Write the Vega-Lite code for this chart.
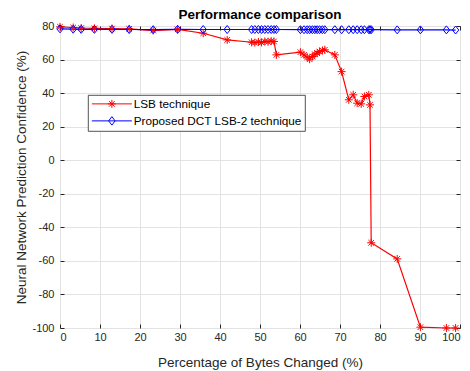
{
  "$schema": "https://vega.github.io/schema/vega-lite/v6.json",
  "width": 400,
  "height": 302,
  "autosize": {"type": "none"},
  "padding": {"left": 60, "top": 26, "right": 10, "bottom": 43},
  "background": "white",
  "title": {
    "text": "Performance comparison",
    "font": "Liberation Sans",
    "fontSize": 13.5,
    "fontWeight": "bold",
    "color": "#000000",
    "anchor": "middle",
    "offset": -1
  },
  "config": {
    "view": {"stroke": "#262626", "strokeWidth": 1},
    "font": "Liberation Sans",
    "legend": {"strokeWidth": 0.8},
    "axis": {
      "labelFont": "Liberation Sans",
      "labelFontSize": 11,
      "labelColor": "#262626",
      "titleFont": "Liberation Sans",
      "titleFontSize": 13.5,
      "titleFontWeight": "normal",
      "titleColor": "#262626",
      "gridColor": "#e3e3e3",
      "gridWidth": 1,
      "tickColor": "#262626",
      "tickSize": -4,
      "domain": false
    }
  },
  "data": {
    "values": [
      {"pct": 0, "conf": 79.5, "technique": "LSB technique"},
      {"pct": 3.3, "conf": 79.1, "technique": "LSB technique"},
      {"pct": 5.3, "conf": 78.8, "technique": "LSB technique"},
      {"pct": 8.6, "conf": 78.6, "technique": "LSB technique"},
      {"pct": 13.0, "conf": 78.5, "technique": "LSB technique"},
      {"pct": 17.3, "conf": 78.3, "technique": "LSB technique"},
      {"pct": 23.3, "conf": 77.3, "technique": "LSB technique"},
      {"pct": 29.4, "conf": 78.0, "technique": "LSB technique"},
      {"pct": 35.8, "conf": 75.7, "technique": "LSB technique"},
      {"pct": 41.8, "conf": 71.7, "technique": "LSB technique"},
      {"pct": 47.9, "conf": 70.3, "technique": "LSB technique"},
      {"pct": 48.7, "conf": 70.1, "technique": "LSB technique"},
      {"pct": 49.6, "conf": 70.5, "technique": "LSB technique"},
      {"pct": 50.4, "conf": 70.2, "technique": "LSB technique"},
      {"pct": 51.2, "conf": 70.8, "technique": "LSB technique"},
      {"pct": 52.0, "conf": 70.6, "technique": "LSB technique"},
      {"pct": 52.8, "conf": 71.0, "technique": "LSB technique"},
      {"pct": 53.5, "conf": 70.8, "technique": "LSB technique"},
      {"pct": 54.1, "conf": 62.8, "technique": "LSB technique"},
      {"pct": 60.1, "conf": 64.4, "technique": "LSB technique"},
      {"pct": 61.0, "conf": 62.8, "technique": "LSB technique"},
      {"pct": 61.8, "conf": 61.4, "technique": "LSB technique"},
      {"pct": 62.4, "conf": 60.2, "technique": "LSB technique"},
      {"pct": 63.1, "conf": 61.8, "technique": "LSB technique"},
      {"pct": 63.7, "conf": 63.2, "technique": "LSB technique"},
      {"pct": 64.3, "conf": 63.8, "technique": "LSB technique"},
      {"pct": 64.9, "conf": 64.8, "technique": "LSB technique"},
      {"pct": 65.6, "conf": 65.4, "technique": "LSB technique"},
      {"pct": 66.2, "conf": 65.8, "technique": "LSB technique"},
      {"pct": 68.7, "conf": 62.8, "technique": "LSB technique"},
      {"pct": 70.4, "conf": 52.8, "technique": "LSB technique"},
      {"pct": 72.2, "conf": 36.0, "technique": "LSB technique"},
      {"pct": 73.3, "conf": 39.0, "technique": "LSB technique"},
      {"pct": 74.3, "conf": 34.0, "technique": "LSB technique"},
      {"pct": 75.3, "conf": 33.6, "technique": "LSB technique"},
      {"pct": 76.1, "conf": 38.0, "technique": "LSB technique"},
      {"pct": 77.2, "conf": 39.0, "technique": "LSB technique"},
      {"pct": 77.5, "conf": 33.0, "technique": "LSB technique"},
      {"pct": 77.8, "conf": -49.2, "technique": "LSB technique"},
      {"pct": 84.3, "conf": -58.8, "technique": "LSB technique"},
      {"pct": 90.1, "conf": -99.5, "technique": "LSB technique"},
      {"pct": 96.6, "conf": -100, "technique": "LSB technique"},
      {"pct": 98.9, "conf": -100, "technique": "LSB technique"},
      {"pct": 0, "conf": 78.3, "technique": "Proposed DCT LSB-2 technique"},
      {"pct": 3.3, "conf": 78.1, "technique": "Proposed DCT LSB-2 technique"},
      {"pct": 5.3, "conf": 78.0, "technique": "Proposed DCT LSB-2 technique"},
      {"pct": 8.6, "conf": 78.0, "technique": "Proposed DCT LSB-2 technique"},
      {"pct": 13.0, "conf": 78.0, "technique": "Proposed DCT LSB-2 technique"},
      {"pct": 17.3, "conf": 77.9, "technique": "Proposed DCT LSB-2 technique"},
      {"pct": 23.3, "conf": 77.8, "technique": "Proposed DCT LSB-2 technique"},
      {"pct": 29.4, "conf": 78.0, "technique": "Proposed DCT LSB-2 technique"},
      {"pct": 35.8, "conf": 77.9, "technique": "Proposed DCT LSB-2 technique"},
      {"pct": 41.8, "conf": 77.9, "technique": "Proposed DCT LSB-2 technique"},
      {"pct": 47.9, "conf": 77.9, "technique": "Proposed DCT LSB-2 technique"},
      {"pct": 48.7, "conf": 77.9, "technique": "Proposed DCT LSB-2 technique"},
      {"pct": 49.6, "conf": 77.9, "technique": "Proposed DCT LSB-2 technique"},
      {"pct": 50.4, "conf": 77.9, "technique": "Proposed DCT LSB-2 technique"},
      {"pct": 51.2, "conf": 77.9, "technique": "Proposed DCT LSB-2 technique"},
      {"pct": 52.0, "conf": 77.9, "technique": "Proposed DCT LSB-2 technique"},
      {"pct": 52.8, "conf": 77.9, "technique": "Proposed DCT LSB-2 technique"},
      {"pct": 53.5, "conf": 77.9, "technique": "Proposed DCT LSB-2 technique"},
      {"pct": 54.1, "conf": 77.9, "technique": "Proposed DCT LSB-2 technique"},
      {"pct": 60.1, "conf": 77.8, "technique": "Proposed DCT LSB-2 technique"},
      {"pct": 61.0, "conf": 77.8, "technique": "Proposed DCT LSB-2 technique"},
      {"pct": 61.8, "conf": 77.8, "technique": "Proposed DCT LSB-2 technique"},
      {"pct": 62.4, "conf": 77.8, "technique": "Proposed DCT LSB-2 technique"},
      {"pct": 63.1, "conf": 77.8, "technique": "Proposed DCT LSB-2 technique"},
      {"pct": 63.7, "conf": 77.8, "technique": "Proposed DCT LSB-2 technique"},
      {"pct": 64.3, "conf": 77.8, "technique": "Proposed DCT LSB-2 technique"},
      {"pct": 64.9, "conf": 77.8, "technique": "Proposed DCT LSB-2 technique"},
      {"pct": 65.6, "conf": 77.8, "technique": "Proposed DCT LSB-2 technique"},
      {"pct": 66.2, "conf": 77.8, "technique": "Proposed DCT LSB-2 technique"},
      {"pct": 68.7, "conf": 77.8, "technique": "Proposed DCT LSB-2 technique"},
      {"pct": 70.4, "conf": 77.8, "technique": "Proposed DCT LSB-2 technique"},
      {"pct": 72.2, "conf": 77.8, "technique": "Proposed DCT LSB-2 technique"},
      {"pct": 73.3, "conf": 77.8, "technique": "Proposed DCT LSB-2 technique"},
      {"pct": 74.3, "conf": 77.8, "technique": "Proposed DCT LSB-2 technique"},
      {"pct": 75.3, "conf": 77.8, "technique": "Proposed DCT LSB-2 technique"},
      {"pct": 76.1, "conf": 77.8, "technique": "Proposed DCT LSB-2 technique"},
      {"pct": 77.2, "conf": 77.8, "technique": "Proposed DCT LSB-2 technique"},
      {"pct": 77.5, "conf": 77.8, "technique": "Proposed DCT LSB-2 technique"},
      {"pct": 77.8, "conf": 77.8, "technique": "Proposed DCT LSB-2 technique"},
      {"pct": 84.3, "conf": 77.7, "technique": "Proposed DCT LSB-2 technique"},
      {"pct": 90.1, "conf": 77.7, "technique": "Proposed DCT LSB-2 technique"},
      {"pct": 96.6, "conf": 77.7, "technique": "Proposed DCT LSB-2 technique"},
      {"pct": 98.9, "conf": 77.6, "technique": "Proposed DCT LSB-2 technique"}
    ]
  },
  "encoding": {
    "x": {
      "field": "pct",
      "type": "quantitative",
      "scale": {"domain": [0, 100], "nice": false, "zero": false},
      "axis": null
    },
    "y": {
      "field": "conf",
      "type": "quantitative",
      "scale": {"domain": [-100, 80], "nice": false, "zero": false},
      "axis": null
    },
    "color": {
      "field": "technique",
      "type": "nominal",
      "scale": {
        "domain": ["LSB technique", "Proposed DCT LSB-2 technique"],
        "range": ["#ff0000", "#0000ff"]
      },
      "legend": {
        "title": null,
        "orient": "none",
        "legendX": 28,
        "legendY": 69,
        "direction": "vertical",
        "fillColor": "white",
        "strokeColor": "#262626",
        "padding": 3,
        "cornerRadius": 0,
        "labelFont": "Liberation Sans",
        "labelFontSize": 11.75,
        "labelColor": "#000000",
        "labelLimit": 260,
        "symbolSize": 100,
        "symbolOffset": 15,
        "labelOffset": 16,
        "rowPadding": 3,
        "encode": {
          "symbols": {
            "update": {
              "shape": {"signal": "datum.value === 'LSB technique' ? 'M-4,0H4M0,-0.8V0.8M-0.8,0H0.8M-0.56,-0.56L0.56,0.56M-0.56,0.56L0.56,-0.56' : 'M-4,0H4M0,-0.85L0.65,0L0,0.85L-0.65,0Z'"},
              "fill": {"value": "transparent"},
              "stroke": {"signal": "scale('color', datum.value)"},
              "strokeWidth": {"value": 1},
              "opacity": {"value": 1}
            }
          }
        }
      }
    }
  },
  "layer": [
    {
      "mark": {"type": "line", "strokeWidth": 1.2},
      "encoding": {
        "x": {
          "field": "pct",
          "type": "quantitative",
          "axis": {
            "orient": "bottom",
            "title": "Percentage of Bytes Changed (%)",
            "values": [0, 10, 20, 30, 40, 50, 60, 70, 80, 90, 100],
            "labelExpr": "toString(datum.value)",
            "grid": true,
            "labelPadding": 7,
            "titlePadding": 13
          }
        },
        "y": {
          "field": "conf",
          "type": "quantitative",
          "axis": {
            "orient": "left",
            "title": "Neural Network Prediction Confidence (%)",
            "values": [-100, -80, -60, -40, -20, 0, 20, 40, 60, 80],
            "labelExpr": "toString(datum.value)",
            "grid": true,
            "labelPadding": 10,
            "titlePadding": 3
          }
        }
      }
    },
    {
      "transform": [{"filter": "datum.technique === 'LSB technique'"}],
      "mark": {
        "type": "point",
        "filled": false,
        "strokeWidth": 1,
        "size": 64,
        "opacity": 1,
        "shape": "M0,-1V1M-1,0H1M-0.7,-0.7L0.7,0.7M-0.7,0.7L0.7,-0.7"
      }
    },
    {
      "transform": [{"filter": "datum.technique === 'Proposed DCT LSB-2 technique'"}],
      "mark": {
        "type": "point",
        "filled": false,
        "strokeWidth": 1,
        "size": 64,
        "opacity": 1,
        "shape": "M0,-1L0.8,0L0,1L-0.8,0Z"
      }
    },
    {
      "mark": {"type": "point", "opacity": 0},
      "encoding": {
        "x": {
          "field": "pct",
          "type": "quantitative",
          "axis": {"orient": "top", "labels": false, "grid": false, "title": null, "values": [0, 10, 20, 30, 40, 50, 60, 70, 80, 90, 100]}
        },
        "y": {
          "field": "conf",
          "type": "quantitative",
          "axis": {"orient": "right", "labels": false, "grid": false, "title": null, "values": [-100, -80, -60, -40, -20, 0, 20, 40, 60, 80]}
        },
        "color": {"value": "transparent"}
      }
    }
  ],
  "resolve": {"axis": {"x": "independent", "y": "independent"}}
}
